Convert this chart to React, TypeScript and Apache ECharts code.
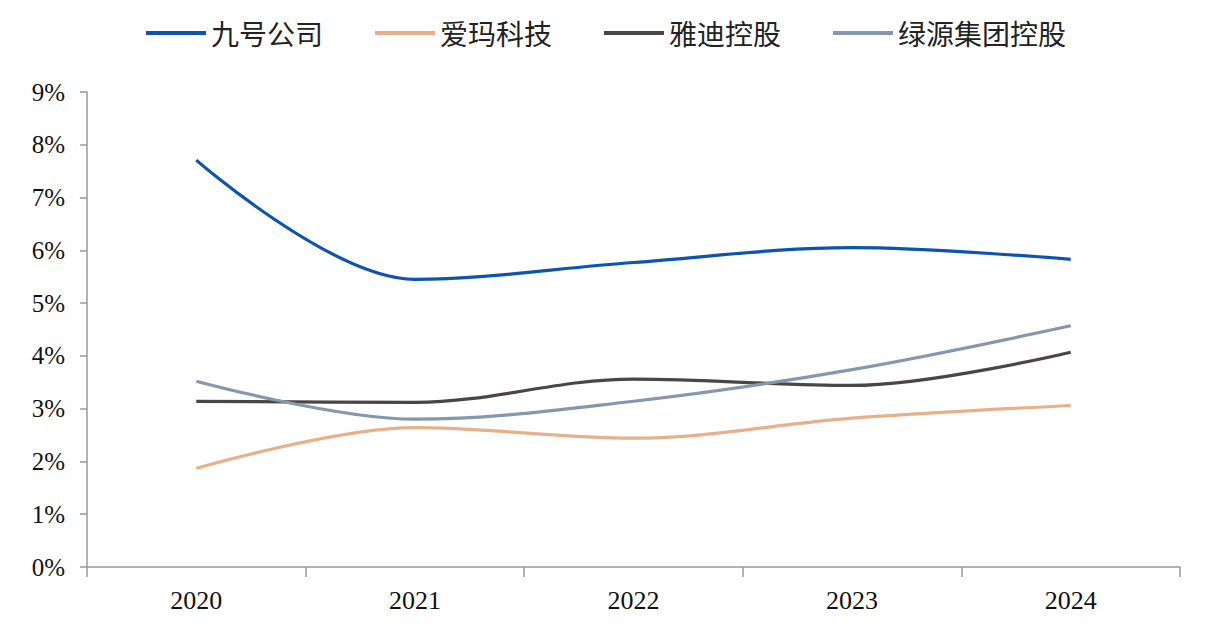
import React, { useEffect, useRef } from "react";
import * as echarts from "echarts";

const years = ["2020", "2021", "2022", "2023", "2024"];
const ninebot = [7.71, 5.45, 5.77, 6.05, 5.83];
const aima = [1.87, 2.64, 2.44, 2.82, 3.06];
const yadea = [3.14, 3.12, 3.56, 3.44, 4.07];
const luyuan = [3.52, 2.8, 3.14, 3.74, 4.57];
const names = ["九号公司", "爱玛科技", "雅迪控股", "绿源集团控股"];
const colors = ["#0B55AE", "#E8B08A", "#4A4546", "#8597AC"];

export default function App() {
  const ref = useRef<HTMLDivElement>(null);
  useEffect(() => {
    const chart = echarts.init(ref.current!, null, { renderer: "svg" });
    const data = [ninebot, aima, yadea, luyuan];
    chart.setOption({
      animation: false,
      legend: {
        top: 6,
        left: "center",
        icon: "rect",
        itemWidth: 60,
        itemHeight: 4,
        itemGap: 52,
        textStyle: { fontSize: 28, color: "#222", fontFamily: "Noto Sans CJK SC" },
        data: names,
      },
      grid: { left: 79, right: 24, top: 84, bottom: 55 },
      xAxis: {
        type: "category",
        data: years,
        boundaryGap: true,
        axisLine: { lineStyle: { color: "#999", width: 1.5 } },
        axisTick: { show: true, length: 10, lineStyle: { color: "#999", width: 1.5 } },
        axisLabel: { fontSize: 26, color: "#111", fontFamily: "Liberation Serif", margin: 20 },
      },
      yAxis: {
        type: "value",
        min: 0,
        max: 9,
        interval: 1,
        splitLine: { show: false },
        axisLine: { show: true, lineStyle: { color: "#999", width: 1.5 } },
        axisTick: { show: true, length: 7, lineStyle: { color: "#999", width: 1.5 } },
        axisLabel: { fontSize: 25, color: "#111", fontFamily: "Liberation Serif", margin: 22, formatter: "{value}%" },
      },
      series: names.map((n, i) => ({
        name: n,
        type: "line",
        data: data[i],
        smooth: 0.35,
        showSymbol: false,
        symbol: "none",
        lineStyle: { width: 3.2, color: colors[i] },
        itemStyle: { color: colors[i] },
      })),
    });
    return () => chart.dispose();
  }, []);
  return <div ref={ref} style={{ width: 1196, height: 614 }} />;
}
